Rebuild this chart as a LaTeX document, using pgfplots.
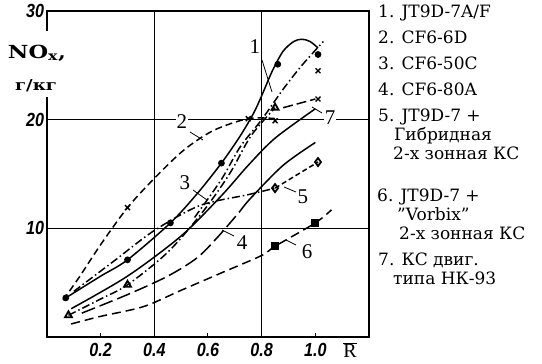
\documentclass[border=0pt]{standalone}
\usepackage{fontspec}
\setmainfont{DejaVu Serif}
\newfontfamily\tickfont{Liberation Sans}
\newfontfamily\labfont{Liberation Serif}
\usepackage{pgfplots}
\pgfplotsset{compat=1.18}
\begin{document}
\begin{tikzpicture}[x=1pt,y=1pt]
\path[use as bounding box] (-47,-27) rectangle (495,337);
\begin{axis}[at={(0,0)},anchor=south west, scale only axis, width=322pt, height=326pt,
  xmin=0,xmax=1.2,ymin=0,ymax=30,
  axis line style={line width=1.3pt},
  xtick={0.2,0.4,0.6,0.8,1.0}, xticklabels={0.2,0.4,0.6,0.8,1.0},
  ytick={10,20,30},
  xtick pos=bottom, ytick pos=left, tick align=inside, major tick length=4pt,
  tick style={line width=1pt,black},
  ticklabel style={font={\tickfont\bfseries\itshape\fontsize{19}{19}\selectfont}, xscale=0.85},
  xticklabel style={yshift=-3pt},
  /pgf/number format/assume math mode=true, clip=false,
  every axis plot/.append style={line width=1.5pt, black}]
% grid lines
\draw[line width=1pt] (axis cs:0.4,0) -- (axis cs:0.4,30);
\draw[line width=1pt] (axis cs:0.8,0) -- (axis cs:0.8,30);
\draw[line width=1pt] (axis cs:0,10) -- (axis cs:1.2,10);
\draw[line width=1pt] (axis cs:0,20) -- (axis cs:1.2,20);
% 1 JT9D-7A/F solid with circles
\addplot[smooth, tension=0.5] coordinates {(0.07,3.6)(0.20,5.6)(0.30,7.1)(0.46,10.5)(0.56,13.2)(0.65,16.0)(0.72,18.5)(0.77,20.6)(0.80,22.2)(0.84,24.5)(0.88,26.3)(0.92,27.2)(0.95,27.4)(0.98,27.2)(1.01,26.6)};
\addplot[only marks, mark=*, mark size=2.6pt] coordinates {(0.07,3.6)(0.30,7.1)(0.46,10.5)(0.65,16.0)(0.86,25.1)(1.01,26.0)};
% 2 CF6-6D dashed with crosses
\addplot[smooth, dash pattern=on 7pt off 4pt] coordinates {(0.06,3.4)(0.12,5.5)(0.20,8.5)(0.30,11.9)(0.40,14.6)(0.51,17.2)(0.62,19.0)(0.75,20.1)(0.85,20.1)};
\addplot[only marks, mark=x, mark size=3.5pt, mark options={line width=1.4pt}] coordinates {(0.30,11.9)(0.75,20.1)(0.85,19.9)(1.01,21.9)(1.01,24.5)};
% 3 CF6-50C dash-dot with triangles
\addplot[smooth, dash pattern=on 8pt off 3pt on 1.5pt off 3pt] coordinates {(0.08,2.0)(0.20,3.5)(0.30,4.8)(0.45,7.8)(0.58,11.5)(0.68,15.0)(0.76,18.5)(0.85,21.1)};
\addplot[dash pattern=on 10pt off 4pt] coordinates {(0.88,21.1)(1.00,21.9)};
\addplot[only marks, mark=triangle, mark size=4pt, mark options={line width=1.8pt}] coordinates {(0.08,2.0)(0.30,4.8)(0.85,21.1)};
\addplot[smooth, dash pattern=on 8pt off 3pt on 1.5pt off 3pt] coordinates {(0.55,11.0)(0.65,14.5)(0.72,17.5)(0.80,20.0)(0.88,22.8)(0.95,25.0)(1.03,27.2)};
% 4 CF6-80A long dash
\addplot[smooth, dash pattern=on 14pt off 5pt] coordinates {(0.13,2.2)(0.30,3.9)(0.45,5.6)(0.56,7.3)(0.64,9.3)(0.72,11.6)};
\addplot[smooth] coordinates {(0.72,11.6)(0.76,12.8)(0.88,15.8)(1.00,17.9)};
% 5 hybrid dash-dot with diamonds
\addplot[smooth, dash pattern=on 8pt off 3pt on 1.5pt off 3pt] coordinates {(0.10,4.2)(0.25,7.0)(0.40,9.8)(0.57,12.1)(0.75,13.1)(0.85,13.7)};
\addplot[dash pattern=on 5pt off 3pt] coordinates {(0.85,13.7)(1.01,16.1)};
\addplot[only marks, mark=diamond, mark size=4pt, mark options={line width=1.8pt, fill=white}] coordinates {(0.85,13.7)(1.01,16.1)};
% 6 Vorbix dashed with squares
\addplot[smooth, dash pattern=on 9pt off 5pt] coordinates {(0.09,1.2)(0.20,1.9)(0.36,2.8)(0.50,4.3)(0.65,5.9)(0.80,7.5)(0.85,8.35)(1.00,10.5)(1.06,11.7)};
\addplot[only marks, mark=square*, mark size=3.2pt] coordinates {(0.85,8.35)(1.00,10.5)};
% 7 NK-93 solid
\addplot[smooth] coordinates {(0.09,2.6)(0.30,5.6)(0.50,9.3)(0.65,13.0)(0.75,15.8)(0.85,18.3)(1.00,21.0)};
\end{axis}
% gap in left axis for the label
\fill[white] (-4,240) rectangle (4,306);
\node[font=\bfseries\fontsize{18}{18}\selectfont, xscale=1.25] at (-10,284) {NO\textsubscript{x},};
\node[font=\bfseries\fontsize{15}{15}\selectfont, xscale=1.2] at (-11,251) {г/кг};
\node[font=\labfont\fontsize{20}{20}\selectfont, anchor=base, inner sep=0pt] at (303,-21) {$\overline{\hbox{R}}$};
% curve labels
\begin{scope}[every node/.style={font=\labfont\fontsize{21}{21}\selectfont, fill=white, inner sep=1pt}]
\draw[line width=0.8pt] (215,277)--(225,245);
\node at (208,290) {1};
\draw[line width=0.8pt] (143,205)--(156,197);
\node at (135,215) {2};
\draw[line width=0.8pt] (146,147)--(160,137);
\node at (138,154) {3};
\draw[line width=0.8pt] (187,101)--(175,107);
\node at (195,94) {4};
\draw[line width=0.8pt] (249,145)--(237,150);
\node at (256,140) {5};
\draw[line width=0.8pt] (249,92)--(239,97);
\node at (260,85) {6};
\draw[line width=0.8pt] (275,224)--(265,230);
\node at (283,219) {7};
\end{scope}
% legend text
\begin{scope}[every node/.style={font=\fontsize{17}{17}\selectfont, anchor=mid west, inner sep=0pt}]
\node at (331,322) {1. JT9D-7A/F};
\node at (331,296) {2. CF6-6D};
\node at (331,270) {3. CF6-50C};
\node at (331,244) {4. CF6-80A};
\node at (331,218) {5. JT9D-7 +};
\node at (347,199) {Гибридная};
\node at (346,180) {2-х зонная КС};
\node at (330,138) {6. JT9D-7 +};
\node at (350,119) {"Vorbix"};
\node at (352,100) {2-х зонная КС};
\node at (331,74) {7. КС двиг.};
\node at (346,55) {типа НК-93};
\end{scope}
\end{tikzpicture}
\end{document}
